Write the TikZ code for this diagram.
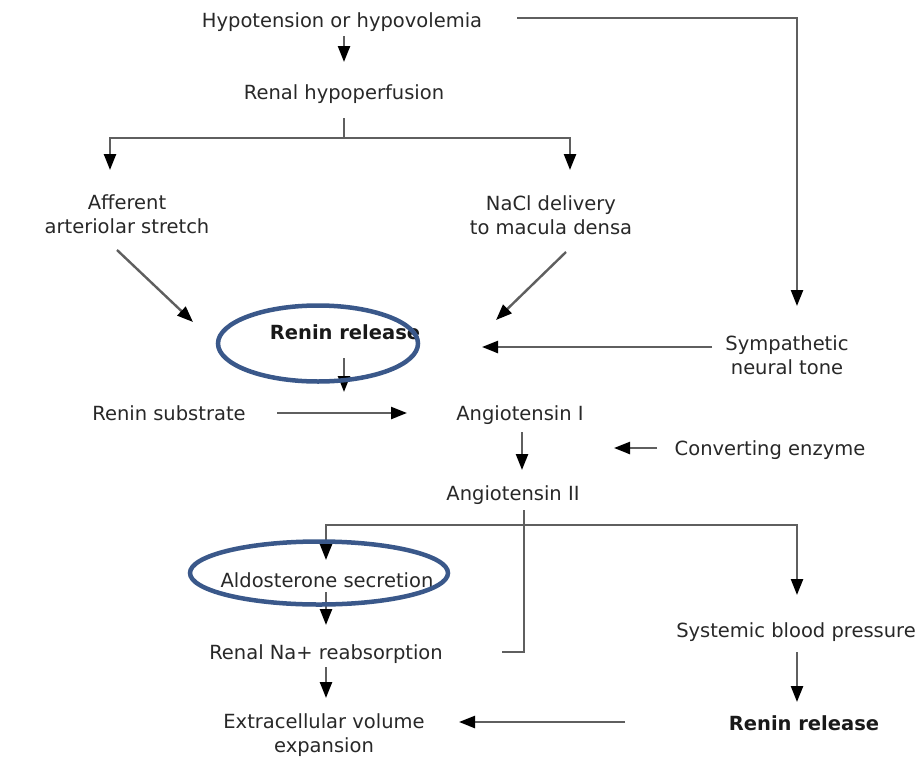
\documentclass[tikz,border=0pt]{standalone}
\usepackage{fontspec}
\setmainfont{DejaVu Sans}
\usetikzlibrary{arrows.meta}
\definecolor{txtgray}{RGB}{40,40,40}
\definecolor{linegray}{RGB}{95,95,95}
\definecolor{hlblue}{RGB}{58,88,138}
\tikzset{
  txtbase/.style={font=\fontsize{19.5}{24}\selectfont, text=txtgray, align=center, inner sep=0pt},
  txt/.style={txtbase, text height=15pt, text depth=1pt},
  txttwo/.style={txtbase},
  boldtxt/.style={txt, font=\fontsize{19.5}{24}\selectfont\bfseries, text=black!90},
  conn/.style={draw=linegray, line width=2.4pt},
  arr/.style={conn, -{Triangle[length=16pt,width=12pt,color=black]}},
  hl/.style={draw=hlblue, line width=4.5pt}
}
\begin{document}
\begin{tikzpicture}[x=1pt,y=-1pt]
\useasboundingbox (0,0) rectangle (924,761);
\fill[white] (0,0) rectangle (924,761);

% nodes
\node[txt] (hyp) at (342,20) {Hypotension or hypovolemia};
\node[txt] (rhp) at (344,92) {Renal hypoperfusion};
\node[txttwo] (aff) at (127,214) {Afferent\\arteriolar stretch};
\node[txttwo] (nacl) at (551,215) {NaCl delivery\\to macula densa};
\node[boldtxt] (rr1) at (345,332) {Renin release};
\node[txttwo] (sym) at (787,355) {Sympathetic\\neural tone};
\node[txt] (sub) at (169,413) {Renin substrate};
\node[txt] (a1) at (520,413) {Angiotensin I};
\node[txt] (ce) at (770,448) {Converting enzyme};
\node[txt] (a2) at (513,493) {Angiotensin II};
\node[txt] (ald) at (327,580) {Aldosterone secretion};
\node[txt] (na) at (326,652) {Renal Na+ reabsorption};
\node[txttwo] (ecv) at (324,735) {Extracellular volume\\expansion};
\node[txt] (sbp) at (796,630) {Systemic blood pressure};
\node[boldtxt] (rr2) at (804,723) {Renin release};

% junction / free-end coordinates
\coordinate (jt) at (344,138);
\coordinate (affin) at (110,170);
\coordinate (naclin) at (570,170);

% connectors
\draw[arr] ([shift={(2,16)}]hyp.center) -- ([shift={(0,-30)}]rhp.center);
\draw[arr] ([shift={(0,26)}]rhp.center) -- (jt) -| (affin);
\draw[arr] (jt) -| (naclin);
\draw[arr] ([shift={(-10,36)}]aff.center) -- ([shift={(-152,-10)}]rr1.center);
\draw[arr] ([shift={(15,37)}]nacl.center) -- ([shift={(151,-12)}]rr1.center);
\draw[arr] ([shift={(175,-2)}]hyp.center) -| ([shift={(10,-49)}]sym.center);
\draw[arr] ([shift={(-75,-8)}]sym.center) -- ([shift={(137,15)}]rr1.center);
\draw[arr] ([shift={(-1,26)}]rr1.center) -- ([shift={(-176,-21)}]a1.center);
\draw[arr] ([shift={(108,0)}]sub.center) -- ([shift={(-113,0)}]a1.center);
\draw[arr] ([shift={(-113,0)}]ce.center) -- ([shift={(94,35)}]a1.center);
\draw[arr] ([shift={(2,19)}]a1.center) -- ([shift={(9,-23)}]a2.center);
\draw[conn] ([shift={(11,17)}]a2.center) |- ([xshift=176]na.center);
\draw[arr] ([shift={(11,32)}]a2.center) -| ([shift={(-1,-20)}]ald.center);
\draw[arr] ([shift={(11,32)}]a2.center) -| ([shift={(1,-35)}]sbp.center);
\draw[arr] ([shift={(-1,12)}]ald.center) -- ([shift={(0,-27)}]na.center);
\draw[arr] ([shift={(0,15)}]na.center) -- ([shift={(2,-37)}]ecv.center);
\draw[arr] ([shift={(1,22)}]sbp.center) -- ([shift={(-7,-21)}]rr2.center);
\draw[arr] ([shift={(-179,-1)}]rr2.center) -- ([shift={(135,-13)}]ecv.center);

% highlight ellipses
\draw[hl] (318,343.5) ellipse [x radius=100, y radius=38];
\draw[hl] (319,573) ellipse [x radius=129, y radius=31.5];
\end{tikzpicture}
\end{document}
